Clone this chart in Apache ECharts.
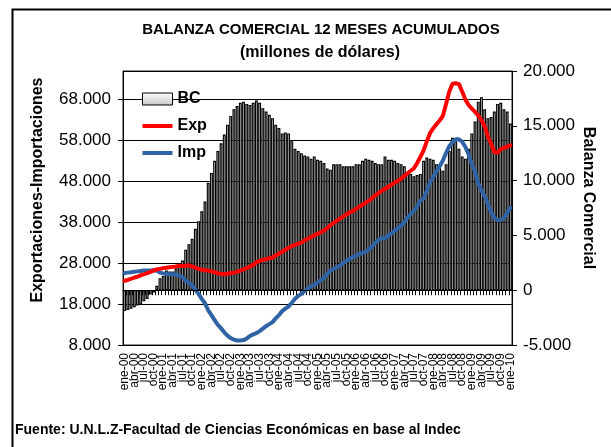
<!DOCTYPE html>
<html>
<head>
<meta charset="utf-8">
<script src="https://cdn.jsdelivr.net/npm/echarts@6/dist/echarts.min.js"></script>
<style>
html,body{margin:0;padding:0;background:#fff;}
#chart{width:611px;height:447px;}
</style>
</head>
<body>
<div id="chart"></div>
<script>
const monthNames = ['ene','feb','mar','abr','may','jun','jul','ago','sep','oct','nov','dic'];
const yearNames = ['00','01','02','03','04','05','06','07','08','09','10'];

// Balanza comercial (eje derecho), millones de dólares
const bc = [
 -1900,-1800,-1700,-1550,-1400,-1300,-1000,-800,-400,-200,400,1100,
 1300,1800,1700,1700,2000,2400,2700,3700,4200,4700,5600,6300,
 7200,8100,9800,10700,11800,12700,13400,14200,15100,15900,16500,16800,
 17100,17200,17000,16900,17100,17300,17100,16600,16300,16000,15700,15100,
 14800,14300,14400,14300,13600,12900,12700,12500,12300,12200,12000,12200,
 11900,11800,11600,11100,11000,11500,11500,11500,11300,11300,11300,11300,
 11500,11500,11800,12000,11900,11800,11600,11500,11500,12200,11900,11900,
 11800,11600,11500,11300,10800,10600,10400,10500,10600,11800,12100,12000,
 11900,11500,11200,10900,11500,12700,13900,13600,12900,12200,12000,12900,
 14300,15400,17200,17600,16500,15700,15800,16300,17000,17100,16500,16300,
 15200
];
// Exportaciones (eje izquierdo)
const exp = [
 23700,23900,24200,24500,24700,25000,25300,25600,25900,26200,26500,26600,
 26800,26900,27000,27100,27200,27400,27300,27400,27500,27200,26900,26600,
 26400,26300,26200,26000,25800,25500,25400,25300,25400,25600,25700,25900,
 26200,26500,26800,27200,27600,28200,28600,28800,29000,29200,29400,29900,
 30300,30800,31300,31800,32200,32500,32800,33000,33600,34000,34400,34800,
 35200,35500,36000,36600,37300,37800,38400,38900,39400,39900,40400,40800,
 41300,41800,42300,42800,43300,43900,44600,45200,45700,46200,46700,47200,
 47700,48100,48700,49300,50000,50600,51200,52500,54000,55600,57800,59800,
 61000,62000,62900,64000,67000,70000,71900,72000,71800,70000,68000,66700,
 65800,65000,64100,63000,61500,59000,57200,55200,55000,55900,56200,56500,
 56800
];
// Importaciones (eje izquierdo)
const imp = [
 25600,25700,25800,25900,26000,26100,26200,26200,26200,26300,26200,25700,
 25500,25400,25300,25300,25200,25000,24600,23700,23200,22600,21500,20500,
 19300,18200,16500,15300,14100,12900,12100,11100,10300,9700,9300,9100,
 9100,9200,9600,10200,10600,10900,11400,12000,12600,13100,13600,14500,
 15300,16300,16900,17400,18300,19300,20000,20500,21200,21800,22400,22700,
 23300,23800,24400,25400,26200,26600,27000,27400,28100,28600,29100,29500,
 29800,30300,30500,30800,31400,32100,33000,33700,34200,34000,34800,35300,
 35900,36500,37200,38000,39200,40000,40800,41900,43300,43800,45700,47800,
 49100,50500,51700,53100,55000,56600,57600,58300,58300,57700,56400,54600,
 52200,50500,47500,45800,44400,42500,40500,39100,38500,38600,39100,40300,
 41600
];

const categories = [];
for (let y = 0; y < yearNames.length; y++) {
  for (let m = 0; m < 12; m++) {
    if (categories.length < bc.length) categories.push(monthNames[m] + '-' + yearNames[y]);
  }
}
const LABEL_STEP = 3; // se rotula un mes de cada tres

function fmt(v) {
  const s = Math.abs(v).toString().replace(/\B(?=(\d{3})+(?!\d))/g, '.');
  return (v < 0 ? '-' : '') + s;
}

const FONT = 'Liberation Sans, Arial, sans-serif';
const LINE_ICON = 'path://M0,0 M30,12 M0,4 L30,4 L30,8 L0,8 Z';
const chart = echarts.init(document.getElementById('chart'), null, {renderer: 'canvas'});

chart.setOption({
  animation: false,
  backgroundColor: '#fff',
  textStyle: {fontFamily: FONT, color: '#000'},
  grid: {left: 123, right: 99, top: 71, bottom: 102, show: true, borderColor: '#222', borderWidth: 1, backgroundColor: 'transparent'},
  legend: {
    orient: 'vertical', left: 137, top: 86, itemGap: 11,
    itemWidth: 30, itemHeight: 12,
    textStyle: {fontFamily: FONT, fontSize: 16, fontWeight: 'bold', color: '#000'},
    data: [
      {name: 'BC', icon: 'rect', itemStyle: {color: new echarts.graphic.LinearGradient(0, 0, 0, 1, [{offset: 0, color: '#ffffff'}, {offset: 1, color: '#c8c8c8'}]), borderColor: '#000', borderWidth: 1}},
      {name: 'Exp', icon: LINE_ICON},
      {name: 'Imp', icon: LINE_ICON}
    ]
  },
  xAxis: {
    type: 'category', data: categories, boundaryGap: true,
    axisLine: {show: true, lineStyle: {color: '#000', width: 1}},
    axisTick: {show: true, interval: 0, length: 5, lineStyle: {color: '#000'}},
    axisLabel: {
      interval: 0, rotate: 90, fontFamily: FONT, fontSize: 12, color: '#000', margin: 8, hideOverlap: false,
      formatter: function (value, index) { return index % LABEL_STEP === 0 ? value : ''; }
    },
    splitLine: {show: false}
  },
  yAxis: [
    {
      type: 'value', min: 8000, max: 75000, interval: 10000, position: 'left',
      axisLine: {show: true, lineStyle: {color: '#000'}},
      axisTick: {show: true, length: 5, lineStyle: {color: '#000'}},
      axisLabel: {fontFamily: FONT, fontSize: 17, color: '#000', margin: 12, showMaxLabel: false, formatter: fmt},
      splitLine: {show: true, lineStyle: {color: '#000', width: 1}}
    },
    {
      type: 'value', min: -5000, max: 20000, interval: 5000, position: 'right',
      axisLine: {show: true, lineStyle: {color: '#000'}},
      axisTick: {show: true, length: 5, lineStyle: {color: '#000'}},
      axisLabel: {fontFamily: FONT, fontSize: 17, color: '#000', margin: 11, formatter: fmt},
      splitLine: {show: false}
    }
  ],
  series: [
    {
      name: 'BC', type: 'bar', yAxisIndex: 1, data: bc,
      barCategoryGap: '10%',
      itemStyle: {
        color: new echarts.graphic.LinearGradient(0, 0, 1, 0, [
          {offset: 0, color: '#555555'}, {offset: 0.5, color: '#d0d0d0'}, {offset: 1, color: '#555555'}
        ]),
        borderColor: '#000', borderWidth: 1.1
      },
      markLine: {
        silent: true, symbol: 'none', label: {show: false},
        lineStyle: {color: '#000', width: 1, type: 'solid'},
        data: [{yAxis: 0}]
      },
      z: 2
    },
    {
      name: 'Imp', type: 'line', yAxisIndex: 0, data: imp,
      symbol: 'none', smooth: false,
      lineStyle: {color: '#2f63a6', width: 4, cap: 'round', join: 'round'},
      itemStyle: {color: '#2f63a6'}, z: 3
    },
    {
      name: 'Exp', type: 'line', yAxisIndex: 0, data: exp,
      symbol: 'none', smooth: false,
      lineStyle: {color: '#ff0000', width: 4, cap: 'round', join: 'round'},
      itemStyle: {color: '#ff0000'}, z: 4
    }
  ],
  graphic: [
    {type: 'rect', left: 10, top: 7, shape: {width: 600, height: 450}, style: {fill: 'none', stroke: '#000', lineWidth: 2}, silent: true, z: 0},
    {type: 'text', x: 321, y: 30, style: {text: 'BALANZA COMERCIAL 12 MESES ACUMULADOS', fontFamily: FONT, fontSize: 15, fontWeight: 'bold', fill: '#000', align: 'center', verticalAlign: 'middle'}},
    {type: 'text', x: 320, y: 53, style: {text: '(millones de dólares)', fontFamily: FONT, fontSize: 16, fontWeight: 'bold', fill: '#000', align: 'center', verticalAlign: 'middle'}},
    {type: 'text', x: 38, y: 190, rotation: Math.PI / 2, style: {text: 'Exportaciones-Importaciones', fontFamily: FONT, fontSize: 16, fontWeight: 'bold', fill: '#000', align: 'center', verticalAlign: 'middle'}},
    {type: 'text', x: 588, y: 198, rotation: -Math.PI / 2, style: {text: 'Balanza Comercial', fontFamily: FONT, fontSize: 16, fontWeight: 'bold', fill: '#000', align: 'center', verticalAlign: 'middle'}},
    {type: 'text', x: 15, y: 430, style: {text: 'Fuente: U.N.L.Z-Facultad de Ciencias Económicas en base al Indec', fontFamily: FONT, fontSize: 14, fontWeight: 'bold', fill: '#000', align: 'left', verticalAlign: 'middle'}}
  ]
});
</script>
</body>
</html>
